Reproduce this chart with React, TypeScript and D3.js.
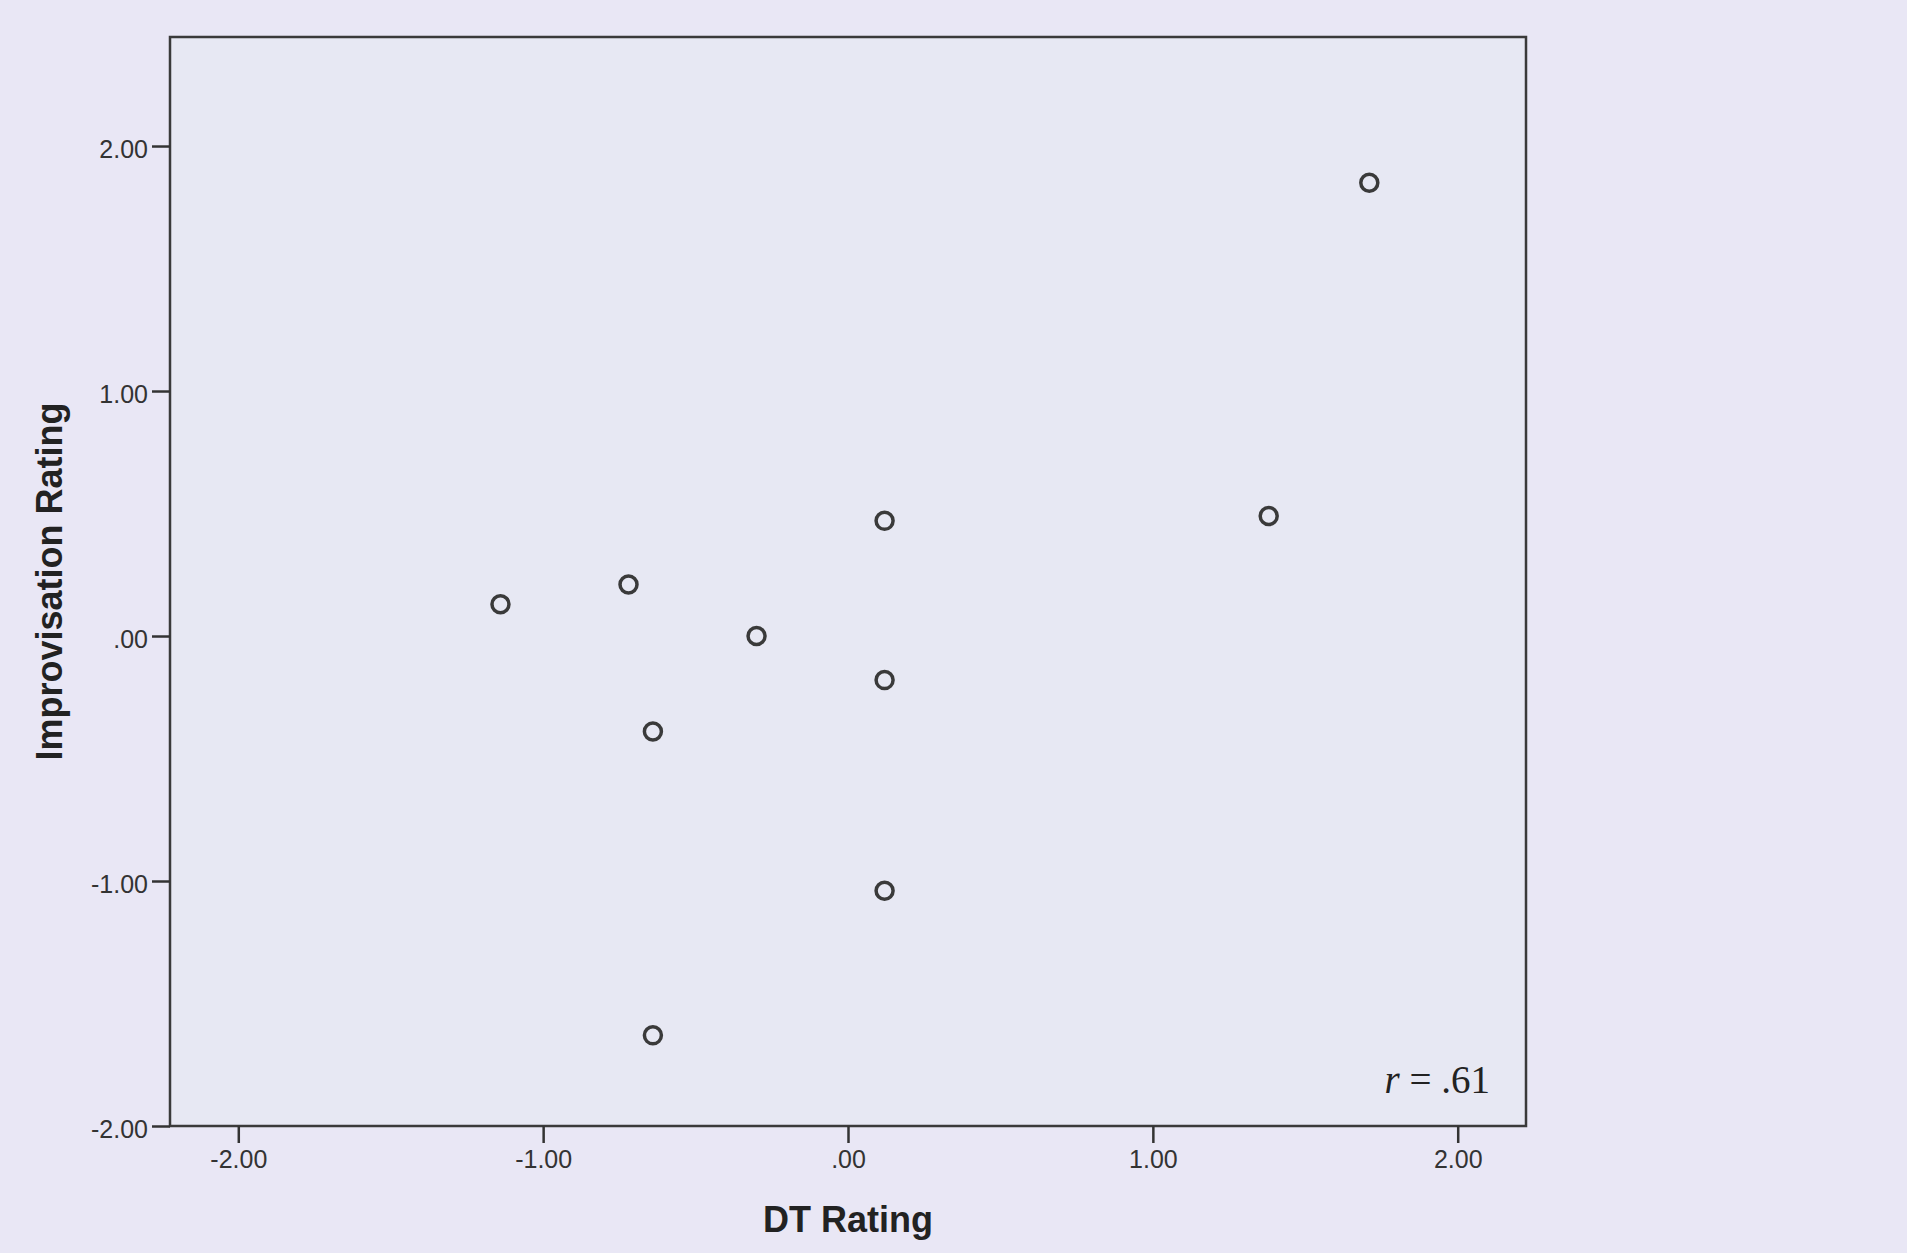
import React, { useEffect, useRef } from 'react';
import * as d3 from 'd3';

// DT rating (x) vs improvisation rating (y), one point per participant
const dtRating = [-1.14, -0.72, -0.30, 0.12, 0.12, -0.64, 0.12, -0.64, 1.38, 1.71];
const improvRating = [0.13, 0.21, 0.00, 0.47, -0.18, -0.39, -1.04, -1.63, 0.49, 1.85];

const xTicks = [-2, -1, 0, 1, 2];
const xTickLabels = ['-2.00', '-1.00', '.00', '1.00', '2.00'];
const yTicks = [-2, -1, 0, 1, 2];
const yTickLabels = ['-2.00', '-1.00', '.00', '1.00', '2.00'];

const xTitle = 'DT Rating';
const yTitle = 'Improvisation Rating';
const rText = '.61';

const W = 1907;
const H = 1253;
const sans = '"Liberation Sans", Arial, sans-serif';

export default function App() {
  const ref = useRef<SVGSVGElement>(null);

  useEffect(() => {
    const svg = d3.select(ref.current);
    svg.selectAll('*').remove();

    const left = 170, right = 1526, top = 37, bottom = 1126;

    const x = d3.scaleLinear().domain([-2.224, 2.224]).range([left, right]);
    const y = d3.scaleLinear().domain([-2.0, 2.445]).range([bottom, top]);

    svg.append('rect')
      .attr('width', W).attr('height', H)
      .attr('fill', '#e9e7f5');

    svg.append('rect')
      .attr('x', left).attr('y', top)
      .attr('width', right - left).attr('height', bottom - top)
      .attr('fill', '#e7e8f3')
      .attr('stroke', '#3a3a3a')
      .attr('stroke-width', 2.5);

    const xAxis = d3.axisBottom(x)
      .tickValues(xTicks)
      .tickSize(17)
      .tickPadding(7)
      .tickFormat((d, i) => xTickLabels[i]);

    const gx = svg.append('g')
      .attr('transform', `translate(0,${bottom})`)
      .call(xAxis);
    gx.select('.domain').remove();
    gx.selectAll('line').attr('stroke', '#333').attr('stroke-width', 2.5);
    gx.selectAll('text')
      .attr('fill', '#333')
      .style('font-family', sans)
      .style('font-size', '25px');

    const yAxis = d3.axisLeft(y)
      .tickValues(yTicks)
      .tickSize(18)
      .tickPadding(4)
      .tickFormat((d, i) => yTickLabels[i]);

    const gy = svg.append('g')
      .attr('transform', `translate(${left},0)`)
      .call(yAxis);
    gy.select('.domain').remove();
    gy.selectAll('line').attr('stroke', '#333').attr('stroke-width', 2.5);
    gy.selectAll('text')
      .attr('fill', '#333')
      .attr('dy', '0.45em')
      .style('font-family', sans)
      .style('font-size', '25px');

    svg.append('text')
      .attr('x', (left + right) / 2)
      .attr('y', 1232)
      .attr('text-anchor', 'middle')
      .attr('fill', '#222')
      .style('font-family', sans)
      .style('font-weight', 'bold')
      .style('font-size', '36px')
      .text(xTitle);

    svg.append('text')
      .attr('transform', `translate(62,${(top + bottom) / 2}) rotate(-90)`)
      .attr('text-anchor', 'middle')
      .attr('fill', '#222')
      .style('font-family', sans)
      .style('font-weight', 'bold')
      .style('font-size', '36px')
      .text(yTitle);

    const rt = svg.append('text')
      .attr('x', 1490)
      .attr('y', 1093)
      .attr('text-anchor', 'end')
      .attr('fill', '#222')
      .style('font-family', '"Liberation Serif", "Times New Roman", serif')
      .style('font-size', '39px');
    rt.append('tspan').style('font-style', 'italic').text('r');
    rt.append('tspan').text(' = ' + rText);

    svg.append('g')
      .selectAll('circle')
      .data(dtRating.map((d, i) => [d, improvRating[i]]))
      .join('circle')
      .attr('cx', d => x(d[0]))
      .attr('cy', d => y(d[1]))
      .attr('r', 8.5)
      .attr('fill', 'none')
      .attr('stroke', '#3a3a3a')
      .attr('stroke-width', 3.5);
  }, []);

  return (
    <svg
      ref={ref}
      width={W}
      height={H}
      style={{ position: 'absolute', left: 0, top: 0, display: 'block' }}
    />
  );
}
